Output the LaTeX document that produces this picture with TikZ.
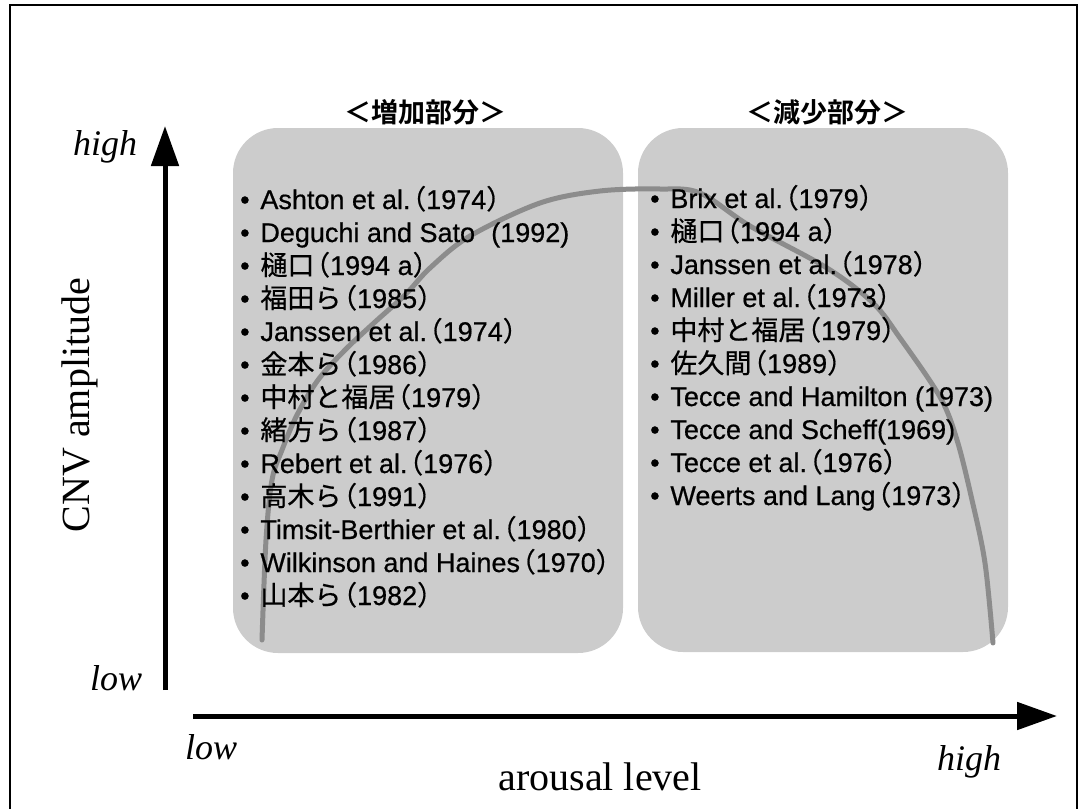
\documentclass[tikz,border=0pt]{standalone}
\usepackage{fontspec}
\setmainfont{Liberation Serif}
\newfontfamily\listfont{Liberation Sans}[FakeBold=0.6]
\newfontfamily\jp{Noto Sans CJK JP}[FakeBold=0.6]
\newfontfamily\jphead{Noto Sans CJK JP Bold}
\usetikzlibrary{arrows.meta}
\newcommand\jlp{\hspace{-0.42em}{\jp （}}
\newcommand\jrp{{\jp ）}}
\begin{document}
\begin{tikzpicture}[x=1pt,y=-1pt,
  panel/.style={fill=black!20, rounded corners=45pt},
  item/.style={anchor=base west, font=\listfont\fontsize{27}{30}\selectfont, inner sep=0pt, text height=19pt, text depth=5pt},
  head/.style={font=\jphead\fontsize{27}{32}\selectfont, inner sep=0pt},
  axislabel/.style={font=\fontsize{40}{48}\selectfont, inner sep=0pt},
  ticklabel/.style={font=\itshape\fontsize{36}{42}\selectfont, inner sep=0pt, anchor=base west},
  axisline/.style={line width=5pt, -{Triangle[length=40pt,width=27pt]}},
  trend/.style={draw=black!45, line width=5pt, line cap=round},
  framepath/.style={line width=1.5pt}]
\useasboundingbox (0,0) rectangle (1080,809);
% frame
\draw[framepath] (10,809) -- (10,5) -- (1077,5) -- (1077,809);
% panels
\fill[panel] (233,128) rectangle (623,653);
\fill[panel] (638,128) rectangle (1008,652);
% trend curve
\draw[trend] plot[smooth, tension=0.55] coordinates {(262,640) (266,540) (272,480) (282,450) (297,415) (318,380) (345,350) (375,322) (405,295) (430,268) (470,236) (540,203) (600,191) (660,189) (700,193) (750,226) (827,268) (873,303) (900,338) (940,397) (957,440) (972,500) (985,563) (993,643)};
% headers
\node[head] (hinc) at (425,112) {＜増加部分＞};
\node[head] (hdec) at (827,112) {＜減少部分＞};
% left list
\node[item] (l1) at (240,209) {•\hspace{0.4em}Ashton et al.\jlp 1974\jrp};
\node[item] (l2) at (240,242) {•\hspace{0.4em}Deguchi and Sato\hspace{0.6em}(1992)};
\node[item] (l3) at (240,275) {•\hspace{0.4em}{\jp 樋口}\jlp 1994 a\jrp};
\node[item] (l4) at (240,308) {•\hspace{0.4em}{\jp 福田ら}\jlp 1985\jrp};
\node[item] (l5) at (240,341) {•\hspace{0.4em}Janssen et al.\jlp 1974\jrp};
\node[item] (l6) at (240,374) {•\hspace{0.4em}{\jp 金本ら}\jlp 1986\jrp};
\node[item] (l7) at (240,407) {•\hspace{0.4em}{\jp 中村と福居}\jlp 1979\jrp};
\node[item] (l8) at (240,440) {•\hspace{0.4em}{\jp 緒方ら}\jlp 1987\jrp};
\node[item] (l9) at (240,473) {•\hspace{0.4em}Rebert et al.\jlp 1976\jrp};
\node[item] (l10) at (240,506) {•\hspace{0.4em}{\jp 高木ら}\jlp 1991\jrp};
\node[item] (l11) at (240,539) {•\hspace{0.4em}Timsit-Berthier et al.\jlp 1980\jrp};
\node[item] (l12) at (240,572) {•\hspace{0.4em}Wilkinson and Haines\jlp 1970\jrp};
\node[item] (l13) at (240,605) {•\hspace{0.4em}{\jp 山本ら}\jlp 1982\jrp};
% right list
\node[item] (r1) at (650,208) {•\hspace{0.4em}Brix et al.\jlp 1979\jrp};
\node[item] (r2) at (650,241) {•\hspace{0.4em}{\jp 樋口}\jlp 1994 a\jrp};
\node[item] (r3) at (650,274) {•\hspace{0.4em}Janssen et al.\jlp 1978\jrp};
\node[item] (r4) at (650,307) {•\hspace{0.4em}Miller et al.\jlp 1973\jrp};
\node[item] (r5) at (650,340) {•\hspace{0.4em}{\jp 中村と福居}\jlp 1979\jrp};
\node[item] (r6) at (650,373) {•\hspace{0.4em}{\jp 佐久間}\jlp 1989\jrp};
\node[item] (r7) at (650,406) {•\hspace{0.4em}Tecce and Hamilton (1973)};
\node[item] (r8) at (650,439) {•\hspace{0.4em}Tecce and Scheff(1969)};
\node[item] (r9) at (650,472) {•\hspace{0.4em}Tecce et al.\jlp 1976\jrp};
\node[item] (r10) at (650,505) {•\hspace{0.4em}Weerts and Lang\jlp 1973\jrp};
% axes
\coordinate (ybot) at (165,690);
\coordinate (ytop) at (165,126);
\coordinate (xleft) at (193,716);
\coordinate (xright) at (1057,716);
\draw[axisline] (ybot) -- (ytop);
\draw[axisline] (xleft) -- (xright);
% axis labels
\node[ticklabel] (yhigh) at (73,155) {high};
\node[ticklabel] (ylow) at (90,690) {low};
\node[ticklabel] (xlow) at (185,759) {low};
\node[ticklabel] (xhigh) at (937,770) {high};
\node[axislabel, rotate=90] (ylab) at (80,405) {CNV amplitude};
\node[axislabel, anchor=base] (xlab) at (600,790) {arousal level};
\end{tikzpicture}
\end{document}
